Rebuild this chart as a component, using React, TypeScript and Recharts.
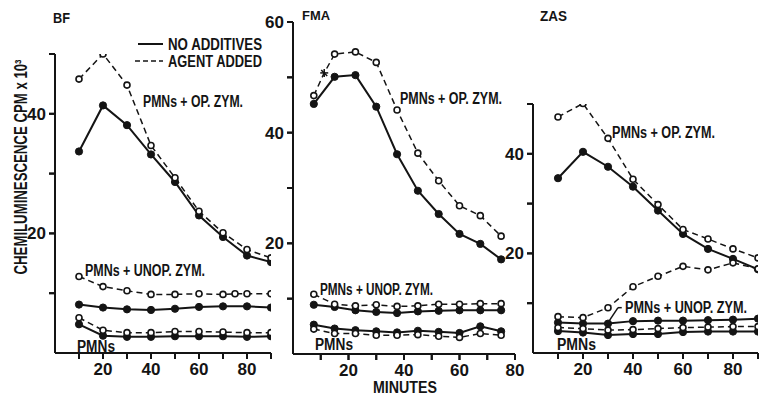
import React from 'react';
import { LineChart, Line, XAxis, YAxis, ReferenceLine } from 'recharts';

const INK = '#141414';
const FONT = '"Liberation Sans", Arial, sans-serif';

// BF panel (minutes, CPM x 10^3)
const bfMinutes = [10, 20, 30, 40, 50, 60, 70, 80, 90];
const bfOpNone = [33.7, 41.4, 38.1, 33.2, 28.6, 23.0, 19.4, 16.3, 15.2];
const bfOpAgent = [45.8, 50.0, 44.8, 34.7, 29.3, 23.7, 20.1, 17.3, 15.9];
const bfUnopNone = [8.1, 7.6, 7.3, 7.2, 7.4, 7.7, 7.8, 7.8, 7.6];
const bfUnopAgentMinutes = [10, 20, 30, 40, 50, 60, 70, 75, 80, 90];
const bfUnopAgent = [12.8, 11.1, 10.4, 9.8, 9.8, 9.9, 9.8, 9.9, 9.9, 9.9];
const bfPmnNone = [4.8, 2.9, 2.7, 2.7, 2.8, 2.8, 2.8, 2.7, 2.8];
const bfPmnAgent = [5.9, 3.8, 3.4, 3.4, 3.6, 3.6, 3.5, 3.4, 3.4];

// FMA panel
const fmaMinutes = [7.5, 15, 22.5, 30, 37.5, 45, 52.5, 60, 67.5, 75];
const fmaOpNone = [45.2, 50.1, 50.4, 44.7, 36.1, 29.5, 25.3, 21.7, 19.9, 17.1];
const fmaOpAgentMinutes = [7.5, 11.25, 15, 22.5, 30, 37.5, 45, 52.5, 60, 67.5, 75];
const fmaOpAgent = [46.7, 50.8, 54.2, 54.6, 52.7, 44.1, 36.3, 31.3, 26.8, 25.0, 21.3];
const fmaUnopNone = [8.9, 8.5, 7.9, 7.6, 7.4, 7.7, 7.8, 7.9, 7.9, 7.9];
const fmaUnopAgent = [10.8, 9.0, 8.7, 8.9, 8.6, 8.7, 9.0, 9.0, 9.1, 9.1];
const fmaPmnNone = [5.3, 4.6, 4.3, 4.1, 3.9, 4.2, 4.0, 3.8, 5.0, 4.1];
const fmaPmnAgent = [4.5, 3.7, 3.7, 3.4, 3.4, 3.5, 3.2, 3.0, 3.7, 3.4];

// ZAS panel
const zasMinutes = [10, 20, 30, 40, 50, 60, 70, 80, 90];
const zasOpNone = [35.1, 40.4, 37.4, 33.4, 28.6, 23.9, 20.9, 18.9, 16.8];
const zasOpAgent = [47.4, 50.1, 43.1, 34.9, 29.8, 24.8, 22.9, 20.9, 19.1];
const zasUnopNone = [6.1, 5.9, 5.9, 6.4, 6.5, 6.5, 6.6, 6.7, 6.9];
const zasUnopAgent = [7.3, 7.1, 9.1, 13.3, 15.4, 17.4, 16.7, 18.1, 16.9];
const zasPmnNone = [4.4, 4.1, 3.6, 3.8, 3.8, 4.2, 4.3, 4.3, 4.3];
const zasPmnAgent = [5.1, 4.9, 4.6, 4.7, 4.9, 5.1, 5.2, 5.3, 5.3];

const ticks90 = [10, 20, 30, 40, 50, 60, 70, 80, 90];
const ticks80 = [10, 20, 30, 40, 50, 60, 70, 80];
const yTicks50 = [10, 20, 30, 40, 50];
const yTicks60 = [10, 20, 30, 40, 50, 60];

type Pt = { t: number; v: number };
const zip = (xs: number[], ys: number[]): Pt[] => xs.map((t, i) => ({ t, v: ys[i] }));

type Series = { id: string; pts: Pt[]; agent: boolean; star?: number };

const TICK_SIZE = 6;
const TICK_GAP = 3;
const label = (v: number) => (v % 20 === 0 ? String(v) : '');

function XTick(p: any) {
  const { x, y, payload } = p;
  const axisY = y - TICK_SIZE - TICK_GAP;
  return (
    <text x={x} y={axisY + 22} textAnchor="middle" fontSize={17} fontWeight={700} fontFamily={FONT} fill={INK}>
      {label(payload.value)}
    </text>
  );
}

function YTick(p: any) {
  const { x, y, payload } = p;
  const axisX = x + TICK_SIZE + TICK_GAP;
  return (
    <text x={axisX - 9} y={y + 6} textAnchor="end" fontSize={17} fontWeight={700} fontFamily={FONT} fill={INK}>
      {label(payload.value)}
    </text>
  );
}

function openDot(star?: number) {
  return (p: any) => {
    const { cx, cy, index } = p;
    if (index === star) {
      return (
        <g key={`s-${index}`} stroke={INK} strokeWidth={1.5}>
          <line x1={cx - 4} y1={cy} x2={cx + 4} y2={cy} />
          <line x1={cx} y1={cy - 4} x2={cx} y2={cy + 4} />
          <line x1={cx - 3} y1={cy - 3} x2={cx + 3} y2={cy + 3} />
        </g>
      );
    }
    return <circle key={`o-${index}`} cx={cx} cy={cy} r={3} fill="#fff" stroke={INK} strokeWidth={1.6} />;
  };
}

function Panel({ left, width, margin, xMax, xTicks, yMax, yTicks, series, children }: {
  left: number; width: number; margin: { top: number; left: number; right: number; bottom: number };
  xMax: number; xTicks: number[]; yMax: number; yTicks: number[]; series: Series[]; children?: React.ReactNode;
}) {
  // axis band of 1px so the axes still get drawn
  const m = { ...margin, left: margin.left - 1, bottom: margin.bottom - 1 };
  // tick marks as short reference segments just outside the axes
  const dx = (TICK_SIZE * xMax) / (width - margin.left - margin.right);
  const dy = (TICK_SIZE * yMax) / (395 - margin.top - margin.bottom);
  return (
    <div style={{ position: 'absolute', left, top: 0 }}>
      <LineChart width={width} height={395} margin={m}>
        <XAxis
          type="number" dataKey="t" domain={[0, xMax]} ticks={xTicks} interval={0} height={1}
          allowDataOverflow tickSize={TICK_SIZE} tickMargin={TICK_GAP}
          tickLine={{ stroke: INK, strokeWidth: 2 }}
          axisLine={{ stroke: INK, strokeWidth: 2 }} tick={<XTick />}
        />
        <YAxis
          type="number" domain={[0, yMax]} ticks={yTicks} interval={0} width={1}
          allowDataOverflow tickSize={TICK_SIZE} tickMargin={TICK_GAP}
          tickLine={{ stroke: INK, strokeWidth: 2 }}
          axisLine={{ stroke: INK, strokeWidth: 2 }} tick={<YTick />}
        />
        {xTicks.map((v) => (
          <ReferenceLine key={`xt-${v}`} segment={[{ x: v, y: 0 }, { x: v, y: -dy }]}
            stroke={INK} strokeWidth={2} ifOverflow="visible" />
        ))}
        {yTicks.map((v) => (
          <ReferenceLine key={`yt-${v}`} segment={[{ x: -dx, y: v }, { x: 0, y: v }]}
            stroke={INK} strokeWidth={2} ifOverflow="visible" />
        ))}
        {series.map((s) => (
          <Line
            key={s.id} data={s.pts} dataKey="v" type="linear" isAnimationActive={false}
            stroke={INK} strokeWidth={s.agent ? 1.5 : 2} strokeDasharray={s.agent ? '6 4' : undefined}
            dot={s.agent ? openDot(s.star) : { r: 3.6, fill: INK, stroke: INK, strokeWidth: 1 }}
            activeDot={false}
          />
        ))}
        {children}
      </LineChart>
    </div>
  );
}

const bfSeries: Series[] = [
  { id: 'op-n', pts: zip(bfMinutes, bfOpNone), agent: false },
  { id: 'op-a', pts: zip(bfMinutes, bfOpAgent), agent: true },
  { id: 'un-n', pts: zip(bfMinutes, bfUnopNone), agent: false },
  { id: 'un-a', pts: zip(bfUnopAgentMinutes, bfUnopAgent), agent: true },
  { id: 'pm-n', pts: zip(bfMinutes, bfPmnNone), agent: false },
  { id: 'pm-a', pts: zip(bfMinutes, bfPmnAgent), agent: true },
];
const fmaSeries: Series[] = [
  { id: 'op-n', pts: zip(fmaMinutes, fmaOpNone), agent: false },
  { id: 'op-a', pts: zip(fmaOpAgentMinutes, fmaOpAgent), agent: true, star: 1 },
  { id: 'un-n', pts: zip(fmaMinutes, fmaUnopNone), agent: false },
  { id: 'un-a', pts: zip(fmaMinutes, fmaUnopAgent), agent: true },
  { id: 'pm-n', pts: zip(fmaMinutes, fmaPmnNone), agent: false },
  { id: 'pm-a', pts: zip(fmaMinutes, fmaPmnAgent), agent: true },
];
const zasSeries: Series[] = [
  { id: 'op-n', pts: zip(zasMinutes, zasOpNone), agent: false },
  { id: 'op-a', pts: zip(zasMinutes, zasOpAgent), agent: true },
  { id: 'un-n', pts: zip(zasMinutes, zasUnopNone), agent: false },
  { id: 'un-a', pts: zip(zasMinutes, zasUnopAgent), agent: true },
  { id: 'pm-n', pts: zip(zasMinutes, zasPmnNone), agent: false },
  { id: 'pm-a', pts: zip(zasMinutes, zasPmnAgent), agent: true },
];

function Txt({ x, y, w, size = 16, children }: { x: number; y: number; w: number; size?: number; children: React.ReactNode }) {
  return (
    <text x={x} y={y} fontSize={size} fontWeight={700} fontFamily={FONT} fill={INK} textLength={w} lengthAdjust="spacingAndGlyphs">
      {children}
    </text>
  );
}

export default function App() {
  return (
    <div style={{ position: 'absolute', left: 0, top: 0, width: 761, height: 395, background: '#fff', overflow: 'hidden' }}>
      <Panel left={0} width={290} margin={{ top: 54, left: 55, right: 19, bottom: 42 }}
        xMax={90} xTicks={ticks90} yMax={50} yTicks={yTicks50} series={bfSeries} />
      <Panel left={240} width={300} margin={{ top: 22, left: 53, right: 25, bottom: 41 }}
        xMax={80} xTicks={ticks80} yMax={60} yTicks={yTicks60} series={fmaSeries} />
      <Panel left={490} width={275} margin={{ top: 104, left: 43, right: 7, bottom: 42 }}
        xMax={90} xTicks={ticks90} yMax={50} yTicks={yTicks50} series={zasSeries}>
        <ReferenceLine segment={[{ x: 30, y: 6.1 }, { x: 34, y: 9.1 }]} stroke={INK} strokeWidth={1.5} ifOverflow="visible" />
        <ReferenceLine segment={[{ x: 34, y: 9.1 }, { x: 35.5, y: 9.1 }]} stroke={INK} strokeWidth={1.5} ifOverflow="visible" />
      </Panel>
      <svg width={761} height={395} style={{ position: 'absolute', left: 0, top: 0, pointerEvents: 'none' }}>
        <Txt x={53} y={23} w={17} size={14}>BF</Txt>
        <Txt x={302} y={20} w={28} size={13}>FMA</Txt>
        <Txt x={540} y={21} w={27} size={14}>ZAS</Txt>

        <line x1={138} y1={44} x2={163} y2={44} stroke={INK} strokeWidth={2} />
        <Txt x={168} y={50} w={94} size={16}>NO ADDITIVES</Txt>
        <line x1={135} y1={61} x2={163} y2={61} stroke={INK} strokeWidth={1.5} strokeDasharray="5 3" />
        <Txt x={168} y={67} w={94} size={16}>AGENT ADDED</Txt>

        <Txt x={143} y={107} w={100}>PMNs + OP. ZYM.</Txt>
        <Txt x={400} y={104} w={102}>PMNs + OP. ZYM.</Txt>
        <Txt x={612} y={138} w={103}>PMNs + OP. ZYM.</Txt>
        <Txt x={85} y={276} w={120}>PMNs + UNOP. ZYM.</Txt>
        <Txt x={320} y={295} w={113}>PMNs + UNOP. ZYM.</Txt>
        <Txt x={625} y={313} w={122}>PMNs + UNOP. ZYM.</Txt>
        <Txt x={77} y={352} w={38}>PMNs</Txt>
        <Txt x={315} y={350} w={38}>PMNs</Txt>
        <Txt x={557} y={350} w={39}>PMNs</Txt>
        <Txt x={373} y={393} w={64} size={16}>MINUTES</Txt>

        <text
          transform="translate(27,167) rotate(-90)" textAnchor="middle" fontSize={18} fontWeight={700}
          fontFamily={FONT} fill={INK} textLength={215} lengthAdjust="spacingAndGlyphs"
        >
          CHEMILUMINESCENCE CPM x 10³
        </text>
      </svg>
    </div>
  );
}
